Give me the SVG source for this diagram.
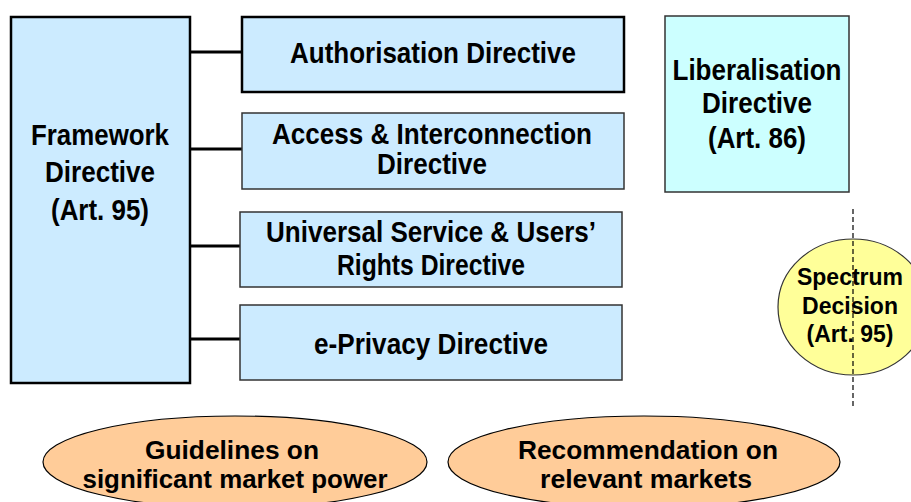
<svg xmlns="http://www.w3.org/2000/svg" width="911" height="502" viewBox="0 0 911 502">
<style>
text{font-family:"Liberation Sans",Arial,sans-serif;font-weight:bold;fill:#000;text-anchor:middle}
.t{font-size:29px}
.s{font-size:23px}
.b{font-size:26px}
.box{fill:#CCEBFF;stroke:#333;stroke-width:1.5}
.boxk{fill:#CCEBFF;stroke:#000;stroke-width:2.5}
.conn{stroke:#000;stroke-width:3;fill:none}
</style>
<rect width="911" height="502" fill="#fff"/>
<g id="connectors">
<line class="conn" x1="190" y1="52" x2="242" y2="52"/>
<line class="conn" x1="190" y1="149" x2="242" y2="149"/>
<line class="conn" x1="190" y1="246" x2="241" y2="246"/>
<line class="conn" x1="190" y1="339" x2="241" y2="339"/>
</g>
<g id="framework">
<rect class="boxk" x="11" y="17" width="179" height="366"/>
<text class="t" x="100" y="145" textLength="138" lengthAdjust="spacingAndGlyphs">Framework</text>
<text class="t" x="100" y="182" textLength="110" lengthAdjust="spacingAndGlyphs">Directive</text>
<text class="t" x="100" y="220" textLength="98" lengthAdjust="spacingAndGlyphs">(Art. 95)</text>
</g>
<g id="authorisation">
<rect class="boxk" x="242" y="17" width="382" height="75"/>
<text class="t" x="433" y="63" textLength="286" lengthAdjust="spacingAndGlyphs">Authorisation Directive</text>
</g>
<g id="access">
<rect class="box" x="242" y="113" width="382" height="76"/>
<text class="t" x="432" y="144" textLength="320" lengthAdjust="spacingAndGlyphs">Access &amp; Interconnection</text>
<text class="t" x="432" y="174" textLength="110" lengthAdjust="spacingAndGlyphs">Directive</text>
</g>
<g id="universal">
<rect class="box" x="240" y="212" width="382" height="75"/>
<text class="t" x="431" y="242" textLength="330" lengthAdjust="spacingAndGlyphs">Universal Service &amp; Users’</text>
<text class="t" x="431" y="275" textLength="188" lengthAdjust="spacingAndGlyphs">Rights Directive</text>
</g>
<g id="eprivacy">
<rect class="box" x="240" y="305" width="382" height="75"/>
<text class="t" x="431" y="354" textLength="234" lengthAdjust="spacingAndGlyphs">e-Privacy Directive</text>
</g>
<g id="liberalisation">
<rect x="665" y="16" width="184" height="176" fill="#CCFFFF" stroke="#333" stroke-width="1.5"/>
<text class="t" x="757" y="80" textLength="169" lengthAdjust="spacingAndGlyphs">Liberalisation</text>
<text class="t" x="757" y="113" textLength="110" lengthAdjust="spacingAndGlyphs">Directive</text>
<text class="t" x="757" y="148" textLength="98" lengthAdjust="spacingAndGlyphs">(Art. 86)</text>
</g>
<g id="spectrum">
<ellipse cx="853" cy="307" rx="75" ry="68" fill="#FFFF99" stroke="#333" stroke-width="1.2"/>
<text class="s" x="850" y="285">Spectrum</text>
<text class="s" x="850" y="314">Decision</text>
<text class="s" x="850" y="342">(Art. 95)</text>
<line x1="853" y1="209" x2="853" y2="406" stroke="#000" stroke-width="1.2" stroke-dasharray="5,3"/>
</g>
<g id="guidelines">
<ellipse cx="235" cy="462" rx="192" ry="46" fill="#FFCC99" stroke="#000" stroke-width="1.2"/>
<text class="b" x="232" y="459" textLength="174" lengthAdjust="spacingAndGlyphs">Guidelines on</text>
<text class="b" x="235" y="488" textLength="305" lengthAdjust="spacingAndGlyphs">significant market power</text>
</g>
<g id="recommendation">
<ellipse cx="644" cy="462" rx="196" ry="46" fill="#FFCC99" stroke="#000" stroke-width="1.2"/>
<text class="b" x="648" y="459" textLength="260" lengthAdjust="spacingAndGlyphs">Recommendation on</text>
<text class="b" x="646" y="488" textLength="212" lengthAdjust="spacingAndGlyphs">relevant markets</text>
</g>
</svg>
